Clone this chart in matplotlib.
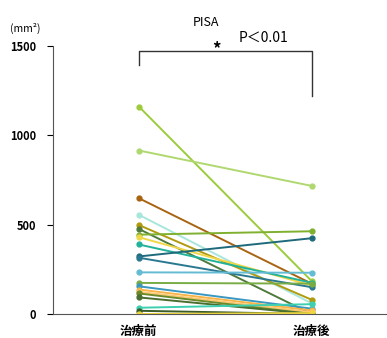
import matplotlib
matplotlib.use('Agg')
import matplotlib.pyplot as plt

plt.rcParams['font.family'] = ['Noto Sans CJK JP', 'DejaVu Sans']

# Paired measurements (mm^2), before and after treatment
categories = ['治療前', '治療後']
before = [1161, 915, 648, 555, 498, 476, 444, 430, 389, 322, 315,
          233, 174, 155, 137, 124, 115, 93, 35, 18, 0]
after = [185, 717, 170, 60, 80, 0, 463, 160, 175, 424, 150,
         231, 170, 30, 20, 10, 0, 0, 55, 0, 5]
colors = ['#9ccc3c', '#b0d870', '#a86410', '#a8e6dc', '#b09a10', '#4e7a3c',
          '#80b030', '#f0d848', '#22b29a', '#1e6a7c', '#2a7890',
          '#64bcd4', '#78ac44', '#3a98c0', '#f8b448', '#fcc870',
          '#6a8a2a', '#4a6e30', '#3cd0b0', '#3a5a28', '#f0d840']
yticks = [0, 500, 1000, 1500]

fig = plt.figure(figsize=(3.87, 3.38), dpi=100)
ax = fig.add_axes([0.137, 0.071, 0.86, 0.793])

for b, a, c in zip(before, after, colors):
    ax.plot([0, 1], [b, a], color=c, lw=1.4, marker='o', markersize=3.5,
            solid_capstyle='round')

ax.set_xlim(-0.497, 1.43)
ax.set_ylim(0, 1500)
ax.set_xticks([0, 1])
ax.set_xticklabels(categories, fontsize=9, fontweight='bold')
ax.tick_params(axis='x', length=0, pad=8)
ax.set_yticks(yticks)
ax.set_yticklabels([str(v) for v in yticks], fontsize=8, fontweight='bold')
ax.tick_params(axis='y', length=4, width=0.8, direction='out', pad=8)

for s in ['top', 'right']:
    ax.spines[s].set_visible(False)
ax.spines['left'].set_color('#555555')
ax.spines['bottom'].set_color('#555555')

# significance bracket
ax.plot([0, 0, 1, 1], [1393, 1472, 1472, 1220], color='#333333', lw=1,
        clip_on=False)
ax.text(0.45, 1480, '*', fontsize=12, ha='center', va='center',
        fontweight='bold', clip_on=False)
ax.text(0.58, 1545, 'P＜0.01', fontsize=10, ha='left', va='center',
        clip_on=False)
ax.text(0.39, 1634, 'PISA', fontsize=9, ha='center', va='center',
        clip_on=False)
fig.text(0.065, 0.917, '(mm²)', fontsize=7.5, ha='center', va='center')

fig.savefig('out.png', dpi=100)
